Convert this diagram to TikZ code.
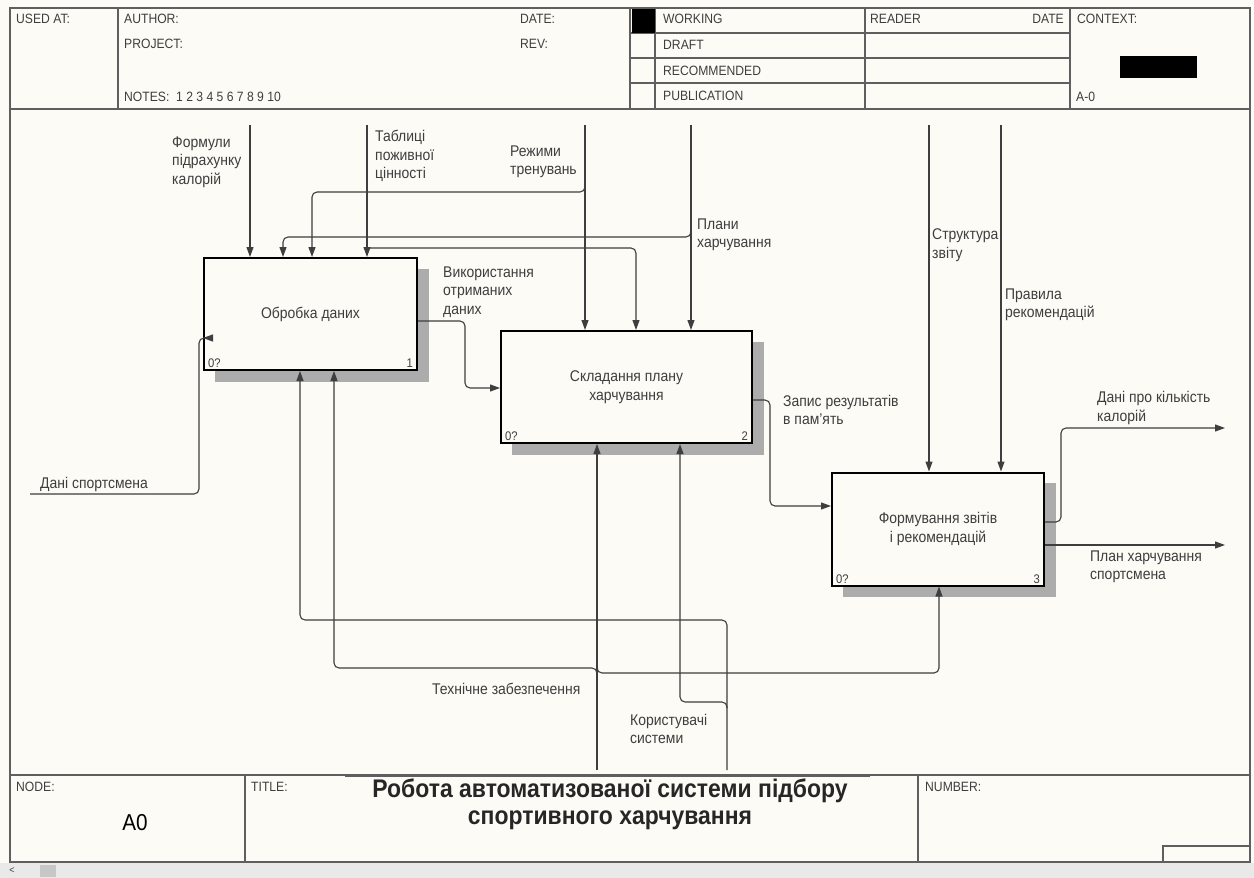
\documentclass[tikz,border=0pt]{standalone}
\usepackage{fontspec}
\setmainfont{Liberation Sans}[FakeStretch=0.9]
\usetikzlibrary{arrows.meta}
\definecolor{paper}{RGB}{253,251,245}
\definecolor{ink}{RGB}{62,62,62}
\definecolor{frameline}{RGB}{95,95,95}
\definecolor{boxshadow}{RGB}{172,172,172}
\definecolor{barfill}{RGB}{233,233,233}

\begin{document}
\begin{tikzpicture}[x=1pt,y=-1pt,
  flow/.style={draw=ink, line width=1.1pt, -{Triangle[length=10pt,width=7pt]}},
  rc/.style={rounded corners=5pt},
  frm/.style={draw=frameline, line width=1.3pt},
  proc/.style={draw=black, line width=2pt, fill=paper, minimum width=#1, minimum height=112pt,
    font=\fontsize{15.5}{18.5}\selectfont, text=ink, align=center, inner sep=0pt},
  lbl/.style={font=\fontsize{15.5}{18.5}\selectfont, text=ink, align=left, inner sep=0pt, anchor=west},
  hdr/.style={font=\fontsize{13.5}{15}\selectfont, text=ink, inner sep=0pt, anchor=west},
  num/.style={font=\fontsize{12.5}{14}\selectfont, text=ink, inner sep=0pt}]

% page and outer frame
\useasboundingbox (0,0) rectangle (1254,878);
\fill[paper] (0,0) rectangle (1254,878);
\draw[frm] (10,8) rectangle (1250,862);

% header block
\draw[frm] (10,109) -- (1250,109);
\foreach \xx in {118,630,655,865,1070} \draw[frm] (\xx,8) -- (\xx,109);
\foreach \yy in {33,58,83} \draw[frm] (630,\yy) -- (1070,\yy);
\fill[black] (632,9) rectangle (655,33);
\fill[black] (1120,56) rectangle (1197,78);
\node[hdr] (usedat) at (16,19) {USED AT:};
\node[hdr] (author) at (124,19) {AUTHOR:};
\node[hdr] (project) at (124,44) {PROJECT:};
\node[hdr] (notes) at (124,97) {NOTES:\ \ 1\ 2\ 3\ 4\ 5\ 6\ 7\ 8\ 9\ 10};
\node[hdr] (date1) at (520,19) {DATE:};
\node[hdr] (rev) at (520,44) {REV:};
\node[hdr] (working) at (663,19) {WORKING};
\node[hdr] (draft) at (663,45) {DRAFT};
\node[hdr] (recom) at (663,71) {RECOMMENDED};
\node[hdr] (publ) at (663,96) {PUBLICATION};
\node[hdr] (reader) at (870,19) {READER};
\node[hdr, anchor=east] (date2) at (1064,19) {DATE};
\node[hdr] (context) at (1077,19) {CONTEXT:};
\node[hdr] (azero) at (1076,97) {A-0};

% footer block
\draw[frm] (10,775) -- (1250,775);
\draw[draw=frameline, line width=2.6pt] (345,776) -- (870,776);
\draw[frm] (245,775) -- (245,862);
\draw[frm] (918,775) -- (918,862);
\node[hdr] (nodelbl) at (16,787) {NODE:};
\node[hdr] (titlelbl) at (251,787) {TITLE:};
\node[hdr] (numlbl) at (925,787) {NUMBER:};
\node[font=\fontsize{23}{26}\selectfont, text=black, inner sep=0pt] (nodeid) at (135,823) {A0};
\node[font=\bfseries\fontsize{25.5}{27}\selectfont, text=black!85, align=center, inner sep=0pt] (title) at (610,804)
  {Робота автоматизованої системи підбору\\спортивного харчування};
\draw[frm] (1163,862) -- (1163,846) -- (1250,846);

% scroll strip
\fill[barfill] (0,863) rectangle (1254,878);
\fill[black!22] (40,865) rectangle (56,877);
\node[font=\fontsize{10}{12}\selectfont, text=ink, inner sep=0pt] (lt) at (12,871) {<};

% shadows and activity boxes
\fill[boxshadow] (215,269) rectangle (429,382);
\fill[boxshadow] (512,342) rectangle (764,455);
\fill[boxshadow] (843,483) rectangle (1056,597);
\node[proc=213pt] (b1) at (310.5,314) {Обробка даних};
\node[proc=251pt] (b2) at (626.5,387) {Складання плану\\харчування};
\node[proc=212pt, minimum height=113pt] (b3) at (938,529) {Формування звітів\\і рекомендацій};
\node[num, anchor=south west] (b1c) at ([shift={(5,-3)}]b1.south west) {0?};
\node[num, anchor=south east] (b1n) at ([shift={(-5,-3)}]b1.south east) {1};
\node[num, anchor=south west] (b2c) at ([shift={(5,-3)}]b2.south west) {0?};
\node[num, anchor=south east] (b2n) at ([shift={(-5,-3)}]b2.south east) {2};
\node[num, anchor=south west] (b3c) at ([shift={(5,-3)}]b3.south west) {0?};
\node[num, anchor=south east] (b3n) at ([shift={(-5,-3)}]b3.south east) {3};

% free ends and bends of the arrows
\coordinate (fTop) at (250,125);
\coordinate (tTop) at (367,125);
\coordinate (rTop) at (585,125);
\coordinate (pTop) at (691,125);
\coordinate (sTop) at (929,125);
\coordinate (prTop) at (1001,125);
\coordinate (rJ) at (585,186);
\coordinate (rB) at (312,192);
\coordinate (pJ) at (691,231);
\coordinate (pB) at (283,237);
\coordinate (tJ) at (367,248);
\coordinate (tB) at (636,248);
\coordinate (dIn) at (30,494);
\coordinate (dUp) at (199,338);
\coordinate (k1) at (465,321);
\coordinate (k2) at (465,388);
\coordinate (k3) at (770,400);
\coordinate (k4) at (770,506);
\coordinate (k5) at (1061,522);
\coordinate (k6) at (1061,428);
\coordinate (out1) at (1225,428);
\coordinate (out2) at (1225,545);
\coordinate (tBot) at (597,770);
\coordinate (tL1) at (597,676);
\coordinate (tL2) at (334,668);
\coordinate (tR1) at (597,664);
\coordinate (tR2) at (939,673);
\coordinate (uBot) at (727,770);
\coordinate (uB) at (300,620);
\coordinate (uJ) at (727,708);
\coordinate (uB2) at (680,702);

% controls
\draw[flow] (fTop) -- (fTop |- b1.north);
\draw[flow] (tTop) -- (tTop |- b1.north);
\draw[flow] (rTop) -- (rTop |- b2.north);
\draw[flow] (pTop) -- (pTop |- b2.north);
\draw[flow] (sTop) -- (sTop |- b3.north);
\draw[flow] (prTop) -- (prTop |- b3.north);
\draw[flow, rc] (rJ) |- (rB) -- (rB |- b1.north);
\draw[flow, rc] (pJ) |- (pB) -- (pB |- b1.north);
\draw[flow, rc] (tJ) -- (tB) -- (tB |- b2.north);

% inputs and outputs
\draw[flow, rc] (dIn) -| (dUp) -- (dUp -| b1.west);
\draw[flow, rc] (k1 -| b1.east) -- (k1) -- (k2) -- (k2 -| b2.west);
\draw[flow, rc] (k3 -| b2.east) -- (k3) -- (k4) -- (k4 -| b3.west);
\draw[flow, rc] (k5 -| b3.east) -- (k5) -- (k6) -- (out1);
\draw[flow] (out2 -| b3.east) -- (out2);

% mechanisms
\draw[flow] (tBot) -- (tBot |- b2.south);
\draw[flow, rc] (tL1) |- (tL2) -- (tL2 |- b1.south);
\draw[flow, rc] (tR1) |- (tR2) -- (tR2 |- b3.south);
\draw[flow, rc] (uBot) |- (uB) -- (uB |- b1.south);
\draw[flow, rc] (uJ) |- (uB2) -- (uB2 |- b2.south);

% arrow labels
\node[lbl] (lf) at (172,162) {Формули\\підрахунку\\калорій};
\node[lbl] (lt2) at (375,156) {Таблиці\\поживної\\цінності};
\node[lbl] (lr) at (510,162) {Режими\\тренувань};
\node[lbl] (lp) at (697,235) {Плани\\харчування};
\node[lbl] (ls) at (932,245) {Структура\\звіту};
\node[lbl] (lpr) at (1005,305) {Правила\\рекомендацій};
\node[lbl] (lv) at (443,292) {Використання\\отриманих\\даних};
\node[lbl] (ld) at (40,484) {Дані спортсмена};
\node[lbl] (lz) at (783,410) {Запис результатів\\в пам'ять};
\node[lbl] (lk) at (1097,408) {Дані про кількість\\калорій};
\node[lbl] (lpl) at (1090,567) {План харчування\\спортсмена};
\node[lbl] (lte) at (432,689) {Технічне забезпечення};
\node[lbl] (lu) at (630,729) {Користувачі\\системи};
\end{tikzpicture}
\end{document}
